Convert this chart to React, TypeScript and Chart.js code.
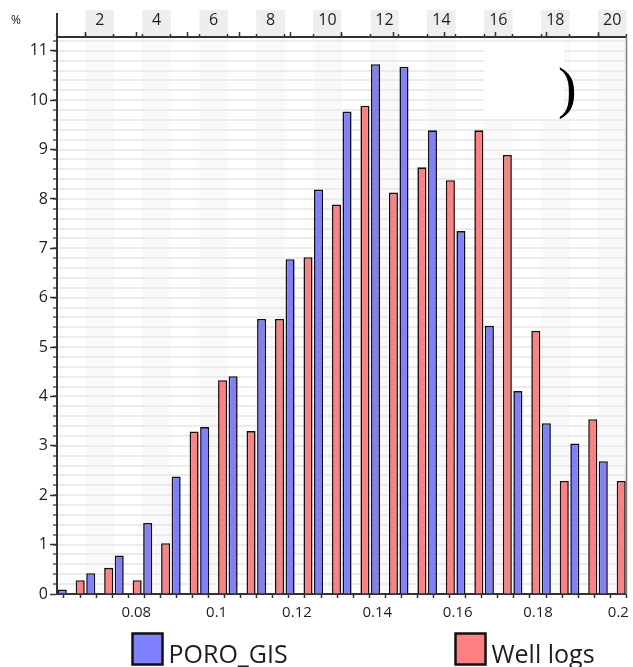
import { useEffect, useRef } from 'react';
import { Chart, registerables } from 'chart.js';

Chart.register(...registerables);

// ---- data ----
const BIN_EDGES = [0.0623, 0.0692, 0.0761, 0.083, 0.0898, 0.0967, 0.1036, 0.1105, 0.1174, 0.1243, 0.1312,
  0.138, 0.1449, 0.1518, 0.1587, 0.1656, 0.1725, 0.1793, 0.1862, 0.1931, 0.2];
const PORO_GIS = [0.09, 0.42, 0.78, 1.44, 2.38, 3.38, 4.41, 5.57, 6.78, 8.19, 9.77, 10.73, 10.68, 9.39, 7.35,
  5.43, 4.11, 3.46, 3.05, 2.69, null];
const WELL_LOGS = [null, 0.28, 0.53, 0.28, 1.03, 3.29, 4.33, 3.3, 5.57, 6.82, 7.89, 9.89, 8.13, 8.64, 8.38,
  9.39, 8.89, 5.33, 2.29, 3.54, 2.29];
const BIN_NUMBERS = ['1', '2', '3', '4', '5', '6', '7', '8', '9', '10', '11', '12', '13', '14', '15', '16', '17',
  '18', '19', '20'];
const SERIES_NAMES = ['PORO_GIS', 'Well logs'];
const X_MIN = 0.0623;
const X_MAX = 0.2;
const X_TICK_STEP = 0.004;
const X_LABEL_STEP = 0.02;
const Y_MAX = 11.28;
const Y_MINOR_STEP = 0.2;
const Y_UNIT_LABEL = '%';
const CORNER_MARK = ')';

const BLUE = '#8080ff';
const RED = '#ff8080';
const INK = '#1e1e1e';
const FONT = "'Open Sans', sans-serif";

const near = (v: number, step: number) => Math.abs(v / step - Math.round(v / step)) < 1e-6;

function stepTicks(from: number, to: number, step: number) {
  const out: { value: number }[] = [];
  const start = Math.ceil(from / step - 1e-6);
  for (let i = start; i * step <= to + 1e-9; i++) out.push({ value: +(i * step).toFixed(6) });
  return out;
}

const decor = {
  id: 'decor',
  beforeDraw(chart: any) {
    const { ctx, chartArea } = chart;
    const xs = chart.scales.x;
    ctx.save();
    for (let i = 0; i < BIN_NUMBERS.length; i++) {
      if (Number(BIN_NUMBERS[i]) % 2 !== 0) continue;
      const a = xs.getPixelForValue(i);
      const b = xs.getPixelForValue(i + 1);
      ctx.fillStyle = '#f9f9f9';
      ctx.fillRect(a, chartArea.top, b - a, chartArea.bottom - chartArea.top);
      ctx.fillStyle = '#eeeeee';
      ctx.fillRect(a, 10, b - a, chartArea.top - 10);
    }
    ctx.restore();
  },
  afterDraw(chart: any) {
    const { ctx, chartArea } = chart;
    ctx.save();
    // right frame line
    ctx.strokeStyle = '#808080';
    ctx.lineWidth = 1.5;
    ctx.beginPath();
    ctx.moveTo(chartArea.right, chartArea.top);
    ctx.lineTo(chartArea.right, chartArea.bottom);
    ctx.stroke();
    // left axis extension upward
    ctx.strokeStyle = '#333';
    ctx.lineWidth = 2;
    ctx.beginPath();
    ctx.moveTo(chartArea.left, 13);
    ctx.lineTo(chartArea.left, chartArea.top);
    ctx.stroke();
    // unit label
    ctx.fillStyle = INK;
    ctx.font = `12px ${FONT}`;
    ctx.textAlign = 'center';
    ctx.textBaseline = 'middle';
    ctx.fillText(Y_UNIT_LABEL, 16, 21);
    // white patch with parenthesis
    ctx.fillStyle = '#ffffff';
    ctx.fillRect(484, 42, 80, 77);
    ctx.fillStyle = '#000';
    ctx.font = "56px 'Liberation Serif', serif";
    ctx.textAlign = 'left';
    ctx.textBaseline = 'alphabetic';
    ctx.fillText(CORNER_MARK, 558, 107);
    // legend
    const items = [
      { ds: 1, x: 132.5 },
      { ds: 0, x: 455.5 },
    ];
    ctx.font = `25px ${FONT}`;
    for (const it of items) {
      const d = chart.data.datasets[it.ds];
      ctx.fillStyle = d.backgroundColor;
      ctx.fillRect(it.x, 633.5, 30, 31);
      ctx.strokeStyle = '#111';
      ctx.lineWidth = 2.5;
      ctx.strokeRect(it.x, 633.5, 30, 31);
      ctx.fillStyle = INK;
      ctx.fillText(d.label, it.x + 36, 663);
    }
    ctx.restore();
  },
};

export default function App() {
  const ref = useRef<HTMLCanvasElement>(null);
  useEffect(() => {
    const canvas = ref.current!;
    Chart.defaults.font.family = FONT;
    const chart = new Chart(canvas, {
      type: 'bar',
      data: {
        labels: BIN_EDGES.map((v) => v.toFixed(4)),
        datasets: [
          {
            label: SERIES_NAMES[1],
            data: WELL_LOGS,
            backgroundColor: RED,
            borderColor: '#111',
            borderWidth: 1.6,
            categoryPercentage: 0.74,
            barPercentage: 0.86,
          },
          {
            label: SERIES_NAMES[0],
            data: PORO_GIS,
            backgroundColor: BLUE,
            borderColor: '#111',
            borderWidth: 1.6,
            categoryPercentage: 0.74,
            barPercentage: 0.86,
          },
        ],
      },
      options: {
        responsive: false,
        animation: false,
        devicePixelRatio: 1,
        events: [],
        layout: { padding: { left: 0, right: 6.5, top: 0, bottom: 0 }, autoPadding: false },
        plugins: { legend: { display: false }, tooltip: { enabled: false } },
        scales: {
          x: {
            type: 'category',
            display: false,
            offset: false,
            grid: { offset: false },
          },
          xTicks: {
            type: 'linear',
            position: 'bottom',
            min: X_MIN,
            max: X_MAX,
            afterBuildTicks: (s: any) => {
              s.ticks = stepTicks(X_MIN, X_MAX, X_TICK_STEP);
            },
            ticks: {
              autoSkip: false,
              maxRotation: 0,
              padding: 6,
              color: INK,
              font: { size: 15, family: FONT },
              callback: (v: any) => (near(Number(v), X_LABEL_STEP) ? String(+Number(v).toFixed(2)) : ''),
            },
            grid: { drawOnChartArea: false, tickLength: 4, tickColor: '#333', tickWidth: 1.5 },
            border: { color: '#333', width: 2 },
            afterFit: (s: any) => {
              s.height = 73;
              s.paddingLeft = 0;
              s.paddingRight = 0;
            },
          },
          xTop: {
            type: 'category',
            position: 'top',
            weight: 1,
            labels: BIN_NUMBERS,
            offset: true,
            grid: { offset: true, drawOnChartArea: false, tickLength: 3, tickColor: '#333', tickWidth: 1.5 },
            border: { color: '#333', width: 2 },
            ticks: {
              autoSkip: false,
              maxRotation: 0,
              padding: 4,
              color: INK,
              font: { size: 16, family: FONT },
              callback: (_v: any, i: number) => (Number(BIN_NUMBERS[i]) % 2 === 0 ? BIN_NUMBERS[i] : ''),
            },
            afterFit: (s: any) => {
              s.height = 37;
              s.paddingLeft = 0;
              s.paddingRight = 0;
            },
          },
          xTopMajor: {
            type: 'linear',
            position: 'top',
            weight: 0,
            min: 0,
            max: BIN_NUMBERS.length,
            afterBuildTicks: (s: any) => {
              s.ticks = BIN_NUMBERS.filter((n) => Number(n) % 2 === 0).map((n) => ({ value: Number(n) - 1 }));
            },
            ticks: { display: false },
            grid: { drawOnChartArea: false, tickLength: 5, tickColor: '#333', tickWidth: 1.5 },
            border: { display: false },
            afterFit: (s: any) => {
              s.height = 0;
              s.paddingLeft = 0;
              s.paddingRight = 0;
            },
          },
          y: {
            type: 'linear',
            position: 'left',
            weight: 1,
            min: 0,
            max: Y_MAX,
            afterBuildTicks: (s: any) => {
              s.ticks = stepTicks(0, Y_MAX, 1);
            },
            ticks: {
              autoSkip: false,
              padding: 2,
              color: INK,
              font: { size: 16, family: FONT },
              callback: (v: any) => String(v),
            },
            grid: { drawOnChartArea: false, tickLength: 7, tickColor: '#333', tickWidth: 1.5 },
            border: { color: '#333', width: 2 },
            afterFit: (s: any) => {
              s.width = 57;
              s.paddingTop = 0;
              s.paddingBottom = 0;
            },
          },
          yMinor: {
            type: 'linear',
            position: 'left',
            weight: 0,
            min: 0,
            max: Y_MAX,
            afterBuildTicks: (s: any) => {
              s.ticks = stepTicks(Y_MINOR_STEP, Y_MAX, Y_MINOR_STEP);
            },
            ticks: { display: false },
            grid: { drawOnChartArea: true, color: '#ececec', lineWidth: 2, tickLength: 4, tickColor: '#333', tickWidth: 1.2 },
            border: { display: false },
            afterFit: (s: any) => {
              s.width = 0;
              s.paddingTop = 0;
              s.paddingBottom = 0;
            },
          },
        },
      },
      plugins: [decor],
    } as any);
    return () => chart.destroy();
  }, []);
  return (
    <div style={{ position: 'fixed', left: 0, top: 0, width: 633, height: 667, background: '#fff' }}>
      <canvas ref={ref} width={633} height={667} style={{ display: 'block', width: 633, height: 667 }} />
    </div>
  );
}
